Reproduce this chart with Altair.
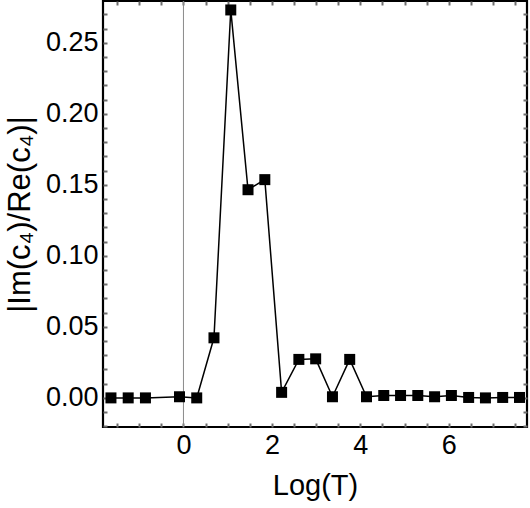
import altair as alt
import pandas as pd

# Data
log_t = [-1.64, -1.25, -0.86, -0.09, 0.30, 0.69, 1.07, 1.46, 1.84, 2.22, 2.61, 2.99,
         3.37, 3.76, 4.14, 4.53, 4.91, 5.30, 5.68, 6.06, 6.45, 6.83, 7.22, 7.60]
ratio = [0.0, 0.0, 0.0, 0.0008, 0.0, 0.0423, 0.2732, 0.1466, 0.1537, 0.0039, 0.0271, 0.0275,
         0.0008, 0.0271, 0.0008, 0.0017, 0.0017, 0.0017, 0.0008, 0.0017, 0.0003, 0.0, 0.0003, 0.0003]

x_ticks = [-1.5, -1.0, -0.5, 0.0, 0.5, 1.0, 1.5, 2.0, 2.5, 3.0, 3.5, 4.0, 4.5, 5.0,
           5.5, 6.0, 6.5, 7.0, 7.5]
y_ticks = [-0.02, -0.01, 0.0, 0.01, 0.02, 0.03, 0.04, 0.05, 0.06, 0.07, 0.08, 0.09, 0.10,
           0.11, 0.12, 0.13, 0.14, 0.15, 0.16, 0.17, 0.18, 0.19, 0.20, 0.21, 0.22, 0.23,
           0.24, 0.25, 0.26, 0.27, 0.28]
zero_line = [0.0]

x_domain = [-1.82, 7.77]
y_domain = [-0.0205, 0.2795]

df = pd.DataFrame({"logT": log_t, "ratio": ratio})
zdf = pd.DataFrame({"z": zero_line})

FONT = "Liberation Sans"
TICK_COLOR = "#6e6e6e"
TS = 4

xscale = alt.Scale(domain=x_domain, nice=False, zero=False)
yscale = alt.Scale(domain=y_domain, nice=False, zero=False)

x_axis = alt.Axis(
    values=x_ticks,
    labelExpr="datum.value % 2 == 0 ? format(datum.value, 'd') : ''",
    offset=-TS, tickSize=TS, tickWidth=2, tickColor=TICK_COLOR,
    domain=False, grid=False, labelOverlap=False, labelFlush=False,
    labelFont=FONT, labelFontSize=27, labelColor="black", labelPadding=5,
    title="Log(T)", titleFont=FONT, titleFontSize=29, titleFontWeight="normal",
    titleColor="black", titlePadding=13,
)
y_axis = alt.Axis(
    values=y_ticks,
    labelExpr="round(datum.value * 100) % 5 == 0 ? format(datum.value, '.2f') : ''",
    offset=-TS, tickSize=TS, tickWidth=2, tickColor=TICK_COLOR,
    domain=False, grid=False, labelOverlap=False, labelFlush=False,
    labelFont=FONT, labelFontSize=27, labelColor="black", labelPadding=5,
    title="|Im(c₄)/Re(c₄)|", titleFont=FONT, titleFontSize=31, titleFontWeight="normal",
    titleColor="black", titlePadding=9,
)
x_axis_top = alt.Axis(
    values=x_ticks, orient="top", labels=False, title=None,
    offset=-TS, tickSize=TS, tickWidth=2, tickColor=TICK_COLOR,
    domain=False, grid=False,
)
y_axis_right = alt.Axis(
    values=y_ticks, orient="right", labels=False, title=None,
    offset=-TS, tickSize=TS, tickWidth=2, tickColor=TICK_COLOR,
    domain=False, grid=False,
)

zero_rule = alt.Chart(zdf).mark_rule(color="#8a8a8a", strokeWidth=1).encode(
    x=alt.X("z:Q", scale=xscale, axis=x_axis_top)
)

line = alt.Chart(df).mark_line(color="black", strokeWidth=1.5).encode(
    x=alt.X("logT:Q", scale=xscale, axis=x_axis),
    y=alt.Y("ratio:Q", scale=yscale, axis=y_axis),
)
points = alt.Chart(df).mark_point(
    shape="square", filled=True, color="black", opacity=1, size=121
).encode(
    x=alt.X("logT:Q", scale=xscale, axis=None),
    y=alt.Y("ratio:Q", scale=yscale, axis=y_axis_right),
)

chart = alt.layer(zero_rule, line, points).resolve_axis(
    x="independent", y="independent"
).properties(
    width=424, height=426,
    background="white",
    autosize=alt.AutoSizeParams(type="none"),
    padding={"left": 103, "top": 1, "right": 3, "bottom": 81},
).configure_view(
    stroke="black", strokeWidth=2.2
)

chart.save("out.html", embed_options={"renderer": "svg", "actions": False})
